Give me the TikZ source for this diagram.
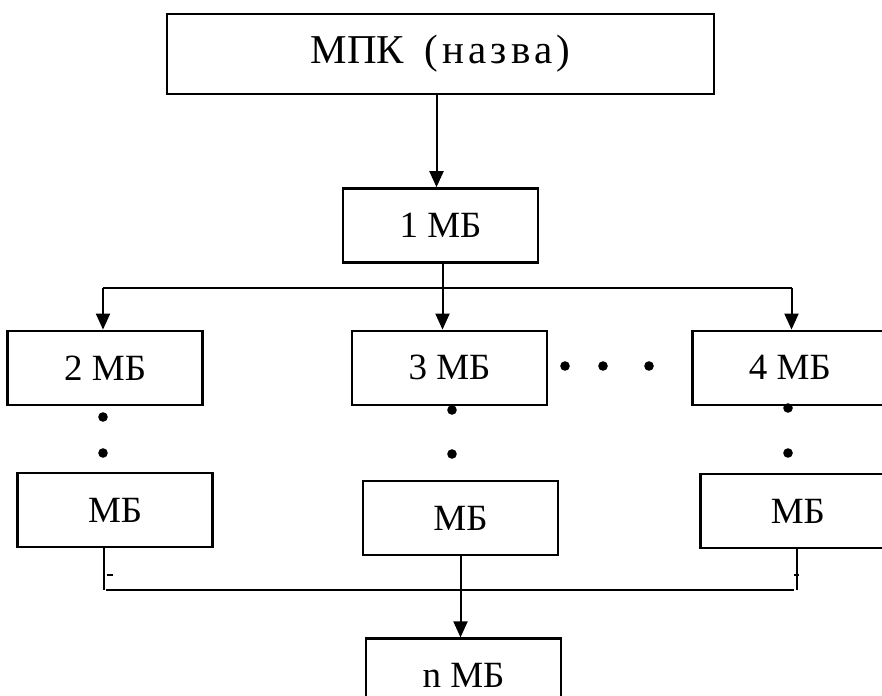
\documentclass[tikz,border=0pt]{standalone}
\usepackage{fontspec}
\setmainfont{Liberation Serif}
\newfontfamily\widefont[LetterSpace=10]{Liberation Serif}
\usetikzlibrary{arrows.meta, positioning, calc}

\begin{document}
\begin{tikzpicture}[
            x=0.5pt, y=-0.5pt,
            box/.style={rectangle, draw=black, line width=1.2pt, minimum width=97.5pt,
                        minimum height=37pt, inner sep=0pt, align=center,
                        font=\fontsize{18.5}{22}\selectfont},
            line/.style={line width=1pt},
            arrow/.style={-{Triangle[length=8pt, width=7pt]}, line width=1pt}
        ]
            \useasboundingbox (0,0) rectangle (882,695);
            \clip (0,0) rectangle (882,695);

            \node[box, minimum width=273.5pt, minimum height=40pt,
                  font=\fontsize{20.5}{24}\selectfont] (mpk) at (440.5,54) {МПК \ {\widefont(назва)}};
            \node[box, below=46pt of mpk] (b1) {1 МБ};
            \node[box, below=33pt of b1, xshift=4.5pt] (b3) {3 МБ};
            \node[box, left=73.5pt of b3] (b2) {2 МБ};
            \node[box, right=71.5pt of b3] (b4) {4 МБ};
            \node[box, below=33pt of b2, xshift=5pt] (m2) {МБ};
            \node[box, below=37pt of b3, xshift=5.5pt] (m3) {МБ};
            \node[box, below=33.5pt of b4, xshift=4pt] (m4) {МБ};
            \node[box, below=40.5pt of m3, xshift=1.5pt] (bn) {n МБ};

            % upper bus
            \coordinate (busL) at (103,288);
            \coordinate (busR) at (791.5,288);
            \draw[arrow] ([xshift=-2pt]mpk.south) -- ([xshift=-2pt]b1.north);
            \draw[arrow] ([xshift=1pt]b1.south) -- ([xshift=1pt]b1.south |- b3.north);
            \draw[line] (busL) -- (busR);
            \draw[arrow] (busL) -- (busL |- b2.north);
            \draw[arrow] (busR) -- (busR |- b4.north);

            % lower bus
            \coordinate (botL) at (106,590);
            \coordinate (botR) at (794,590);
            \draw[line] ([xshift=-5.5pt]m2.south) -- ([xshift=-5.5pt]m2.south |- botL);
            \draw[line] ([xshift=-0.5pt]m4.south) -- ([xshift=-0.5pt]m4.south |- botR);
            \draw[line] (botL) -- (botR);
            \draw[line] (107,575) -- (113,575);
            \draw[line] (794,575) -- (799,575);
            \draw[arrow] (m3.south) -- (m3.south |- bn.north);

            % dots
            \foreach \px/\py in {103/417, 103/453, 452/410, 452/454, 788/408, 788/453,
                                 565/366, 603/366, 649/366}
                \fill (\px,\py) circle (2.4pt);
        \end{tikzpicture}
\end{document}
